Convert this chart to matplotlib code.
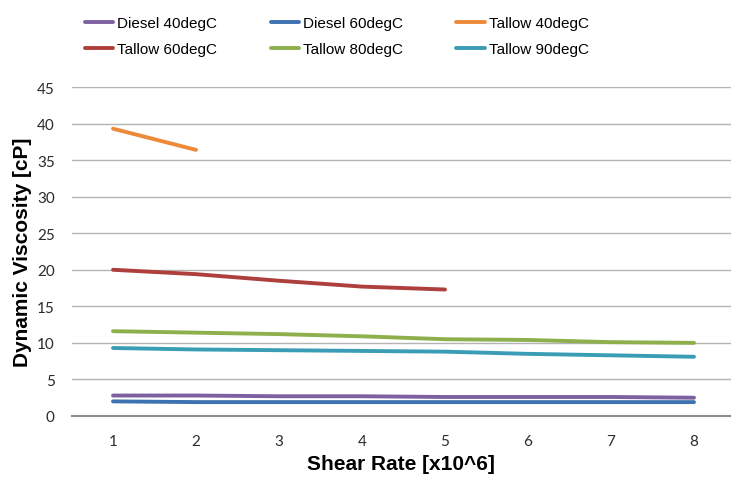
import matplotlib
matplotlib.use("Agg")
import matplotlib.pyplot as plt

plt.rcParams['font.family'] = ['Liberation Sans', 'DejaVu Sans']

shear_rate = [1, 2, 3, 4, 5, 6, 7, 8]

diesel_40 = [2.8, 2.8, 2.7, 2.7, 2.6, 2.6, 2.6, 2.5]
diesel_60 = [2.0, 1.9, 1.9, 1.9, 1.9, 1.9, 1.9, 1.9]
tallow_40 = [39.3, 36.4]
tallow_60 = [20.0, 19.4, 18.5, 17.7, 17.3]
tallow_80 = [11.6, 11.4, 11.2, 10.9, 10.5, 10.4, 10.1, 10.0]
tallow_90 = [9.3, 9.1, 9.0, 8.9, 8.8, 8.5, 8.3, 8.1]

series = [
    ("Diesel 40degC", diesel_40, "#7D60A0"),
    ("Diesel 60degC", diesel_60, "#3D72B0"),
    ("Tallow 40degC", tallow_40, "#EC8A3A"),
    ("Tallow 60degC", tallow_60, "#AD3F3D"),
    ("Tallow 80degC", tallow_80, "#8DB04C"),
    ("Tallow 90degC", tallow_90, "#3A9DB5"),
]

y_ticks = [0, 5, 10, 15, 20, 25, 30, 35, 40, 45]

fig = plt.figure(figsize=(7.31, 4.81), dpi=100)
ax = fig.add_axes([71.5 / 731, 1 - 417 / 481, 1 - 71.5 / 731, (417 - 88) / 481])

handles = []
for label, values, color in series:
    line, = ax.plot(shear_rate[:len(values)], values, color=color, lw=2.8,
                    solid_capstyle='round', label=label, zorder=3)
    handles.append(line)

ax.set_xlim(0.5, 8 + (731 - 694) / 83)
ax.set_ylim(0, 45)
ax.set_yticks(y_ticks)
ax.set_xticks(shear_rate)
ax.yaxis.grid(True, color="#B4B4B4", lw=1.0)
ax.set_axisbelow(True)
for side in ("top", "right", "left"):
    ax.spines[side].set_visible(False)
ax.spines["bottom"].set_color("#8C8C8C")
ax.spines["bottom"].set_linewidth(1.5)
ax.tick_params(axis="both", length=0, labelsize=11, colors="#2B2B2B")
for lbl in ax.get_xticklabels() + ax.get_yticklabels():
    lbl.set_family(["Lato", "DejaVu Sans"])
ax.tick_params(axis="y", pad=12)
ax.tick_params(axis="x", pad=13)

ax.set_xlabel("Shear Rate [x10^6]", fontsize=15, fontweight="bold", labelpad=4)
ax.set_ylabel("Dynamic Viscosity [cP]", fontsize=15, fontweight="bold", labelpad=3.5)

# row-major ordering across the three legend columns
order = [0, 3, 1, 4, 2, 5]
fig.legend([handles[i] for i in order], [series[i][0] for i in order],
           loc="upper left", bbox_to_anchor=(74.3 / 731, 0.9865), ncol=3,
           frameon=False, fontsize=11, handlelength=1.85, handletextpad=0.26,
           columnspacing=3.5, labelspacing=0.78, borderaxespad=0.3)

fig.savefig("out.png", dpi=100)
